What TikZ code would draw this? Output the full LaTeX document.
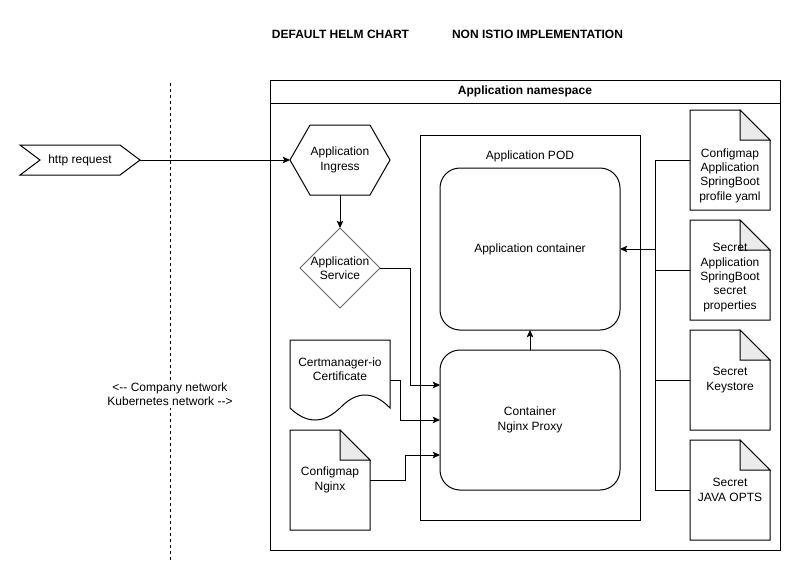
\documentclass[tikz,border=0pt]{standalone}
\usepackage{fontspec}
\setmainfont{Liberation Sans}
\usetikzlibrary{arrows.meta,calc}
\definecolor{foldgray}{HTML}{EBEBEB}
\definecolor{dgray}{HTML}{666666}
\newcommand\drawnote[1]{%
  \draw (#1.north west) -- ([xshift=-22.5pt]#1.north east) -- ([yshift=-22.5pt]#1.north east) -- (#1.south east) -- (#1.south west) -- cycle;
  \draw[fill=foldgray] ([xshift=-22.5pt]#1.north east) -- ([xshift=-22.5pt,yshift=-22.5pt]#1.north east) -- ([yshift=-22.5pt]#1.north east) -- cycle;}
\begin{document}
\begin{tikzpicture}[x=0.75pt,y=-0.75pt,line width=0.75pt,
  font=\fontsize{9}{10.8}\selectfont,
  box/.style={inner sep=0pt,outer sep=0pt,align=center},
  txt/.style={align=center,inner sep=0pt},
  bold/.style={font=\bfseries\fontsize{9}{10.8}\selectfont,inner sep=0pt},
  arr/.style={-{Stealth[length=5.5pt,width=5pt,inset=1.2pt]}},
  doc/.style={box,minimum width=60pt,minimum height=75pt}]
\path[use as bounding box,fill=white] (0,0) rectangle (801,582);

% titles
\node[bold] (t1) at (340.5,34) {DEFAULT HELM CHART};
\node[bold] (t2) at (537.5,34) {NON ISTIO IMPLEMENTATION};

% namespace
\node[box,draw,minimum width=382.5pt,minimum height=352.5pt] (ns) at (525,315) {};
\draw ($(ns.north west)+(0,23)$) -- ($(ns.north east)+(0,23)$);
\node[bold] (nsl) at (525,91.5) {Application namespace};

% network separator
\coordinate (sepT) at (170,83);
\coordinate (sepB) at (170,560);
\draw[dash pattern=on 2.25pt off 2.25pt] (sepT) -- (sepB);
\node[txt,fill=white,inner sep=1.5pt] (net) at (170,394) {<-{}- Company network\\Kubernetes network -{}->};

% http request
\node[box,minimum width=90pt,minimum height=22.5pt] (req) at (80,160) {http request};
\draw (req.north west) -- ([xshift=-15pt]req.north east) -- (req.east) -- ([xshift=-15pt]req.south east) -- (req.south west) -- ([xshift=15pt]req.west) -- cycle;

% ingress
\node[box,minimum width=75pt,minimum height=52.5pt] (ing) at (340,160) {Application\\Ingress};
\draw (ing.west) -- ([xshift=15pt]ing.north west) -- ([xshift=-15pt]ing.north east) -- (ing.east) -- ([xshift=-15pt]ing.south east) -- ([xshift=15pt]ing.south west) -- cycle;

% service
\node[box,minimum width=60pt,minimum height=60pt] (svc) at (340,268) {Application\\Service};
\draw[dgray] (svc.north) -- (svc.east) -- (svc.south) -- (svc.west) -- cycle;

% pod
\node[box,draw,minimum width=165pt,minimum height=288.75pt] (pod) at (530,327.5) {};
\node[txt] (podl) at (530,156) {Application POD};
\node[box,draw,rounded corners=15pt,minimum width=135pt,minimum height=121.5pt] (app) at (530,249) {Application container};
\node[box,draw,rounded corners=15pt,minimum width=135pt,minimum height=105pt] (nginx) at (530,420) {Container\\Nginx Proxy};

% certificate
\node[box,minimum width=75pt,minimum height=60pt] (cert) at (340,380) {};
\draw (290,340) -- (390,340) -- (390,408) .. controls (373.33,390.67) and (356.67,390.67) .. (340,408)
  .. controls (323.33,424) and (306.67,424) .. (290,408) -- cycle;
\node[txt] (certl) at (340,369) {Certmanager-io\\Certificate};

% configmap nginx
\node[doc] (cmn) at (330,480) {Configmap\\Nginx};
\drawnote{cmn}

% right documents
\node[doc] (d1) at (730,160) {};
\drawnote{d1}
\node[txt] (d1l) at (730,175.5) {Configmap\\Application\\SpringBoot\\profile yaml};
\node[doc] (d2) at (730,270) {};
\drawnote{d2}
\node[txt] (d2l) at (730,277.5) {Secret\\Application\\SpringBoot\\secret\\properties};
\node[doc] (d3) at (730,380) {Secret\\Keystore};
\drawnote{d3}
\node[doc] (d4) at (730,490) {Secret\\JAVA OPTS};
\drawnote{d4}

% connectors
\draw[arr] (req.east) -- (ing.west);
\draw[arr] (ing.south) -- (svc.north);
\draw[arr] (svc.east) -- ++(30,0) |- ($(nginx.north west)!0.25!(nginx.south west)$);
\draw[arr] (cert.east) -- ++(10,0) |- (nginx.west);
\draw[arr] (cmn.east) -- ++(35,0) |- ($(nginx.north west)!0.75!(nginx.south west)$);
\draw[arr] (nginx.north) -- (app.south);
\coordinate (bus) at ($(d1.west)+(-35,0)$);
\draw (d1.west) -- (bus) |- (d4.west);
\draw (d2.west) -- (bus |- d2.west);
\draw (d3.west) -- (bus |- d3.west);
\draw[arr] (bus |- app.east) -- (app.east);
\end{tikzpicture}
\end{document}
